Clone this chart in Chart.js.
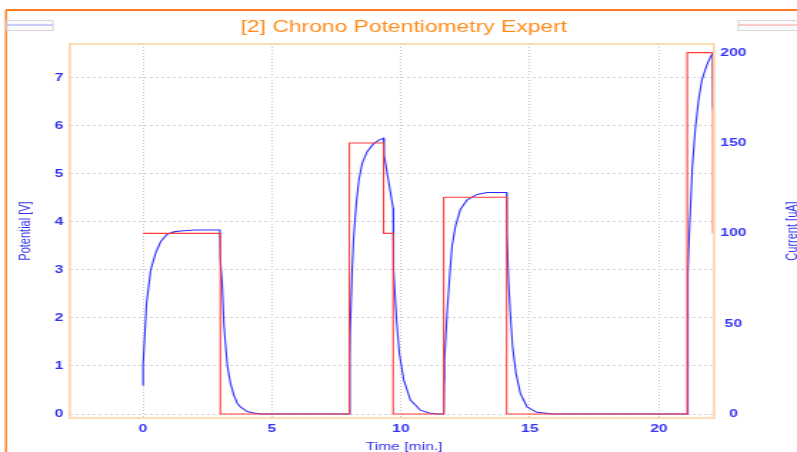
<!DOCTYPE html>
<html>
<head>
<meta charset="utf-8">
<script src="https://cdn.jsdelivr.net/npm/chart.js@4.4.1/dist/chart.umd.min.js"></script>
<style>
  html, body { margin: 0; padding: 0; background: #fff; overflow: hidden; }
  /* the reference is a horizontally stretched render, so draw narrow and stretch */
  #wrap { width: 558px; height: 452px; transform: scale(1.4283, 1); transform-origin: 0 0; }
</style>
</head>
<body>
<div id="wrap"><canvas id="chart"></canvas></div>
<script>
const TITLE = "[2] Chrono Potentiometry Expert";

const TIME_TICKS = [0, 5, 10, 15, 20];
const POTENTIAL_TICKS = [0, 1, 2, 3, 4, 5, 6, 7];
const CURRENT_TICKS = [0, 50, 100, 150, 200];

// applied current steps (uA)
const CURRENT_T = [0, 3, 3, 8, 8, 9.33, 9.33, 9.7, 9.7, 11.66, 11.66, 14.1, 14.1, 21.1, 21.1, 22.1, 22.1];
const CURRENT_UA = [100, 100, 0, 0, 150, 150, 100, 100, 0, 0, 120, 120, 0, 0, 200, 200, 100];

// measured potential (V)
const POTENTIAL_T = [
  0, 0.005, 0.066, 0.14, 0.3, 0.49, 0.69, 0.94, 1.2, 1.46, 2.0, 2.98,
  3.0, 3.07, 3.14, 3.2, 3.27, 3.33, 3.4, 3.52, 3.66, 3.78, 4.04, 4.3, 4.6,
  8.0, 8.02, 8.03, 8.11, 8.17, 8.27, 8.37, 8.5, 8.69, 8.95, 9.15, 9.33,
  9.35, 9.7, 9.71, 9.72, 9.83, 9.94, 10.11, 10.37, 10.75, 11.1, 11.4,
  11.66, 11.68, 11.69, 11.79, 11.88, 11.98, 12.11, 12.3, 12.56, 12.95, 13.34, 14.1,
  14.11, 14.17, 14.24, 14.33, 14.46, 14.63, 14.89, 15.27, 15.72, 15.9,
  21.1, 21.12, 21.13, 21.17, 21.24, 21.3, 21.41, 21.54, 21.67, 21.86, 22.0, 22.09, 22.1
];
const POTENTIAL_V = [
  0.6, 1.02, 1.61, 2.31, 3.0, 3.35, 3.59, 3.74, 3.79, 3.81, 3.83, 3.83,
  3.2, 2.72, 1.85, 1.45, 1.02, 0.82, 0.62, 0.4, 0.22, 0.15, 0.05, 0.02, 0,
  0, 1.16, 1.7, 3.0, 3.69, 4.38, 4.87, 5.22, 5.46, 5.63, 5.7, 5.74,
  5.39, 4.28, 3.3, 3.0, 1.96, 1.26, 0.71, 0.29, 0.08, 0.02, 0,
  0, 0.71, 1.12, 2.1, 2.79, 3.48, 3.9, 4.25, 4.45, 4.57, 4.61, 4.61,
  3.79, 2.79, 2.1, 1.4, 0.85, 0.43, 0.15, 0.035, 0.01, 0,
  0, 1.68, 2.93, 3.62, 4.45, 5.15, 5.91, 6.53, 6.95, 7.26, 7.43, 7.51, 6.36
];

const FONT = "'Liberation Sans', Arial, sans-serif";
const BLUE = "#3333f2";
const ORANGE = "#ff8c1a";

function swatch(ctx, x, y, w, color) {
  ctx.fillStyle = "#fbfbfb";
  ctx.fillRect(x, y, w, 10);
  ctx.strokeStyle = "#d6d6d6";
  ctx.lineWidth = 1;
  ctx.strokeRect(x, y, w, 10);
  ctx.strokeStyle = color;
  ctx.beginPath();
  ctx.moveTo(x, y + 4.5);
  ctx.lineTo(x + w, y + 4.5);
  ctx.stroke();
}

function upText(ctx, text, x, y) {
  ctx.save();
  ctx.translate(x, y);
  ctx.rotate(-Math.PI / 2);
  ctx.fillText(text, 0, 0);
  ctx.restore();
}

const decor = {
  id: "decor",
  afterDraw(chart) {
    const { ctx, chartArea: a, width, height } = chart;
    ctx.save();
    ctx.strokeStyle = "#ffd3a6";
    ctx.lineWidth = 1.6;
    ctx.strokeRect(a.left, a.top, a.right - a.left, a.bottom - a.top);

    ctx.strokeStyle = "#ff7a1f";
    ctx.lineWidth = 2;
    ctx.beginPath(); ctx.moveTo(4.2, 10); ctx.lineTo(width, 10); ctx.stroke();
    ctx.lineWidth = 1.4;
    ctx.beginPath(); ctx.moveTo(4.2, 10); ctx.lineTo(4.2, height); ctx.stroke();

    swatch(ctx, 4.9, 20.5, 32.2, "#9c9cff");
    swatch(ctx, 516.9, 20.5, 45, "#ff9c9c");

    ctx.fillStyle = ORANGE;
    ctx.font = "16px " + FONT;
    ctx.textAlign = "center";
    ctx.textBaseline = "alphabetic";
    ctx.fillText(TITLE, 282.7, 32.3);

    ctx.fillStyle = BLUE;
    ctx.font = "11px " + FONT;
    ctx.textBaseline = "middle";
    const mid = (a.top + a.bottom) / 2;
    upText(ctx, "Potential [V]", 18.2, mid);
    upText(ctx, "Current [uA]", 554.5, mid);
    ctx.fillText("Time [min.]", 282.9, 446.7);
    ctx.restore();
  },
};

const fixedTicks = (values) => (scale) => {
  scale.ticks = values.map((v) => ({ value: v }));
};

const tickFont = { family: FONT, size: 11, weight: "bold" };

new Chart(document.getElementById("chart"), {
  type: "line",
  data: {
    datasets: [
      {
        label: "Current",
        yAxisID: "y2",
        data: CURRENT_T.map((t, i) => ({ x: t, y: CURRENT_UA[i] })),
        borderColor: "#ff3b3b",
        borderWidth: 1.1,
        pointRadius: 0,
        tension: 0,
      },
      {
        label: "Potential",
        yAxisID: "y",
        data: POTENTIAL_T.map((t, i) => ({ x: t, y: POTENTIAL_V[i] })),
        borderColor: "#2c2cff",
        borderWidth: 1.1,
        pointRadius: 0,
        tension: 0,
      },
    ],
  },
  options: {
    responsive: true,
    maintainAspectRatio: false,
    animation: false,
    devicePixelRatio: 1,
    layout: { padding: { top: 44, left: 0, right: 0, bottom: 0 } },
    plugins: {
      legend: { display: false },
      tooltip: { enabled: false },
    },
    scales: {
      x: {
        type: "linear",
        min: -2.84,
        max: 22.14,
        afterBuildTicks: fixedTicks(TIME_TICKS),
        afterFit: (s) => { s.height = 34; },
        grid: { color: "#c2c2c2", drawTicks: false },
        border: { display: false, dash: [1, 2] },
        ticks: { color: BLUE, font: tickFont, padding: 4, maxRotation: 0 },
      },
      y: {
        position: "left",
        min: -0.083,
        max: 7.7,
        afterBuildTicks: fixedTicks(POTENTIAL_TICKS),
        afterFit: (s) => { s.width = 48.8; },
        grid: { color: "#d4d4d4", drawTicks: false },
        border: { display: false, dash: [2, 2] },
        ticks: { color: BLUE, font: tickFont, padding: 4.4 },
      },
      y2: {
        position: "right",
        min: -2.2,
        max: 204.8,
        afterBuildTicks: fixedTicks(CURRENT_TICKS),
        afterFit: (s) => { s.width = 58.1; },
        grid: { display: false, drawTicks: false },
        border: { display: false },
        ticks: { color: BLUE, font: tickFont, padding: 4.4, crossAlign: "center" },
      },
    },
  },
  plugins: [decor],
});
</script>
</body>
</html>
